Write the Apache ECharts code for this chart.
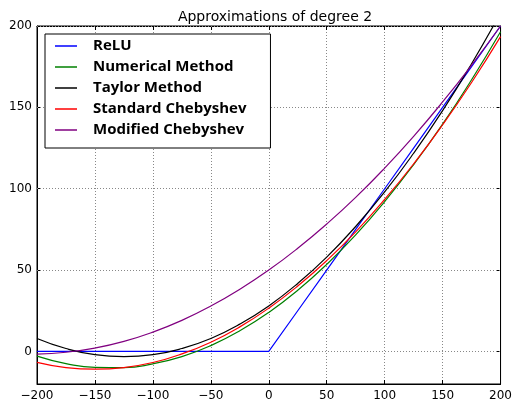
<!DOCTYPE html>
<html>
<head>
<meta charset="utf-8">
<script src="https://cdn.jsdelivr.net/npm/echarts@6/dist/echarts.min.js"></script>
<style>html,body{margin:0;padding:0;background:#fff;}#c{width:515px;height:402px;}</style>
</head>
<body>
<div id="c"></div>
<script>
const xs = [-200,-175,-150,-125,-100,-75,-50,-25,0,25,50,75,100,125,150,175,200];
const relu = [0,0,0,0,0,0,0,0,0,25,50,75,100,125,150,175,200];
const numerical = [-2.9,-7.5,-9.8,-9.9,-7.6,-3.2,3.6,12.7,24,37.6,53.5,71.6,92.1,114.8,139.7,167,196.5];
const taylor = [8,1.8,-2,-3.2,-2,1.8,8,16.8,28,41.8,58,76.8,98,121.8,148,176.8,208];
const stdCheb = [-6.7,-9.9,-10.9,-9.9,-6.8,-1.5,5.7,15.1,26.6,40.2,55.8,73.5,93.4,115.3,139.3,165.3,193.5];
const modCheb = [-1.6,-0.5,2.1,6.2,11.9,19.1,27.9,38.2,50,63.4,78.3,94.7,112.7,132.2,153.3,175.9,200];
const xTicks = [-200,-150,-100,-50,0,50,100,150,200];
const yTicks = [0,50,100,150,200];

const pair = arr => xs.map((x,i)=>[x,arr[i]]);
const fmt = v => String(v).replace('-', '\u2212');
const labelFont = {fontFamily:'DejaVu Sans', fontSize:12, color:'#000'};
const tick = {show:true, inside:true, length:4, lineStyle:{color:'#000', width:1}};
const grid = {show:true, lineStyle:{color:'#888', type:[1,2], width:1}};
const axLine = {show:true, onZero:false, lineStyle:{color:'#000', width:1}};

const chart = echarts.init(document.getElementById('c'), null, {renderer:'canvas'});
const mk = (name, arr, color, smooth) => ({
  name, type:'line', data: pair(arr), symbol:'none', smooth: smooth,
  lineStyle:{color, width:1.2}, itemStyle:{color}, clip:true, animation:false, z:6
});
chart.setOption({
  animation:false,
  title:{text:'Approximations of degree 2', left:270, textAlign:'center', top:5,
    textStyle:{fontFamily:'DejaVu Sans', fontSize:14, fontWeight:'normal', color:'#000'}},
  grid:{left:37, right:12, top:26, bottom:15, show:true, borderColor:'#000', borderWidth:1, backgroundColor:'#fff'},
  legend:{orient:'vertical', left:45, top:34, itemWidth:22, itemHeight:1.5, itemGap:5, icon:'rect',
    padding:[4,24,10,10], borderColor:'#000', borderWidth:1, backgroundColor:'#fff', z:10,
    textStyle:{fontFamily:'Open Sans', fontWeight:'bold', fontSize:15, color:'#000', lineHeight:16, padding:[0,0,0,11]},
    data:['ReLU','Numerical Method','Taylor Method','Standard Chebyshev','Modified Chebyshev']},
  xAxis:[
    {type:'value', min:-200, max:200, interval:50, position:'bottom',
     axisLine:axLine, axisTick:tick, splitLine:grid,
     axisLabel:Object.assign({margin:6, formatter: fmt}, labelFont)},
    {type:'value', min:-200, max:200, interval:50, position:'top',
     axisLine:axLine, axisTick:tick, splitLine:{show:false}, axisLabel:{show:false}}
  ],
  yAxis:[
    {type:'value', min:-20, max:200, position:'left',
     axisLine:axLine, axisTick:Object.assign({}, tick, {customValues:yTicks}), splitLine:{show:false},
     axisLabel:Object.assign({margin:5, customValues:yTicks, formatter: fmt}, labelFont)},
    {type:'value', min:-20, max:200, position:'right',
     axisLine:axLine, axisTick:Object.assign({}, tick, {customValues:yTicks}), splitLine:{show:false}, axisLabel:{show:false}}
  ],
  series:[
    {type:'line', data: yTicks.map(v=>[-200,v]), symbol:'none', lineStyle:{opacity:0}, silent:true, z:1,
     markLine:{silent:true, symbol:'none', label:{show:false}, animation:false, z:1,
       lineStyle:{color:'#888', type:[1,2], width:1},
       data: yTicks.map(v=>({yAxis:v}))}},
    mk('ReLU', relu, '#0000ff', false),
    mk('Numerical Method', numerical, '#008000', true),
    mk('Taylor Method', taylor, '#000000', true),
    mk('Standard Chebyshev', stdCheb, '#ff0000', true),
    mk('Modified Chebyshev', modCheb, '#800080', true)
  ]
});
</script>
</body>
</html>
